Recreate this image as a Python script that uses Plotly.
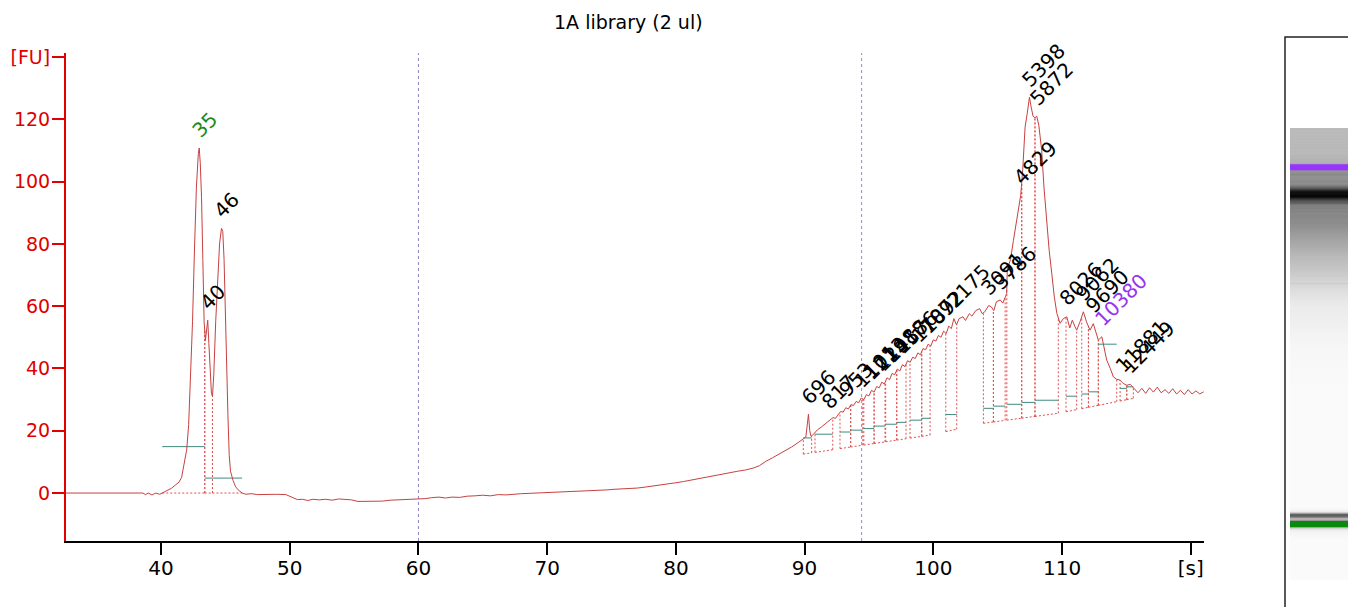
import numpy as np
import plotly.graph_objects as go

### DATA
# electropherogram, migration time [s] vs fluorescence [FU]
time_s = [
    32.6, 38.6, 38.8, 39.0, 39.3, 39.6, 39.9, 40.2, 40.5, 40.8,
    41.1, 41.4, 41.6, 41.8, 42.0, 42.15, 42.3, 42.45, 42.6, 42.75,
    42.9, 42.97, 43.05, 43.15, 43.25, 43.35, 43.45, 43.55, 43.63, 43.72,
    43.82, 43.92, 44.0, 44.1, 44.25, 44.4, 44.55, 44.7, 44.8, 44.9,
    45.0, 45.1, 45.2, 45.3, 45.4, 45.6, 45.8, 46.0, 46.3, 46.6,
    47.0, 47.5, 48.0, 48.5, 49.0, 49.7, 50.2, 50.6, 51.0, 51.4,
    51.8, 52.3, 52.8, 53.3, 53.8, 54.3, 54.8, 55.3, 55.8, 56.5,
    57.2, 57.8, 58.3, 58.8, 59.3, 60.0, 60.5, 61.0, 61.6, 62.1,
    62.6, 63.2, 63.8, 64.4, 65.0, 65.6, 66.2, 66.8, 67.4, 68.0,
    68.6, 69.2, 69.8, 70.4, 71.0, 71.6, 72.2, 72.8, 73.4, 74.0,
    74.6, 75.2, 75.8, 76.4, 77.0, 77.6, 78.2, 78.8, 79.4, 80.0,
    80.6, 81.2, 81.8, 82.4, 83.0, 83.6, 84.2, 84.8, 85.4, 86.0,
    86.5, 87.0, 87.5, 88.0, 88.5, 89.0, 89.5, 89.9, 90.1, 90.25,
    90.3, 90.4, 90.5, 90.6, 90.8, 91.0, 91.3, 91.6, 91.9, 92.2,
    92.4, 92.6, 92.8, 93.0, 93.2, 93.4, 93.6, 93.8, 94.0, 94.2,
    94.4, 94.6, 94.8, 95.0, 95.2, 95.4, 95.6, 95.8, 96.0, 96.2,
    96.4, 96.6, 96.8, 97.0, 97.2, 97.4, 97.6, 97.8, 98.0, 98.2,
    98.4, 98.6, 98.8, 99.0, 99.2, 99.4, 99.6, 99.8, 100.0, 100.2,
    100.4, 100.6, 100.8, 101.0, 101.2, 101.4, 101.6, 101.8, 102.0, 102.3,
    102.5, 102.8, 103.0, 103.3, 103.6, 103.8, 104.0, 104.3, 104.5, 104.7,
    104.9, 105.2, 105.4, 105.6, 105.7, 105.75, 106.0, 106.22, 106.48, 106.79,
    106.95, 107.13, 107.3, 107.47, 107.6, 107.75, 107.9, 108.04, 108.2, 108.42,
    108.6, 108.81, 109.0, 109.2, 109.4, 109.6, 109.85, 110.1, 110.37, 110.6,
    110.8, 111.0, 111.14, 111.4, 111.66, 111.9, 112.18, 112.43, 112.65, 112.82,
    113.09, 113.3, 113.47, 113.75, 113.99, 114.25, 114.5, 114.75, 115.03, 115.3,
    115.6, 115.9, 116.2, 116.5, 116.8, 117.1, 117.4, 117.7, 118.0, 118.3,
    118.6, 118.9, 119.2, 119.5, 119.8, 120.1, 120.4, 120.7, 121.0,
]
fu = [
    0, 0, -0.5, 0, -0.6, 0, -0.4, 0.3, 0.8, 1.5,
    2.5, 3.5, 5, 9, 14, 22, 38, 55, 78, 98,
    109, 110.8, 106, 95, 75, 55, 49, 53, 55.5, 48,
    38, 32, 31, 38, 55, 70, 80, 85, 84, 75,
    55, 40, 25, 12, 7, 4, 2, 1, 0, -0.4,
    -0.2, -0.5, -0.4, -0.5, -0.4, -0.5, -1.5, -2.1, -2.0, -2.4,
    -2.0, -2.2, -2.0, -2.3, -1.9, -2.0, -2.2, -2.7, -2.7, -2.7,
    -2.6, -2.3, -2.2, -2.3, -2.1, -1.9, -1.8, -1.5, -1.3, -1.6,
    -1.3, -1.4, -1.0, -0.9, -0.7, -0.9, -0.5, -0.6, -0.3, -0.2,
    -0.1, 0, 0.1, 0.2, 0.3, 0.3, 0.5, 0.6, 0.6, 0.8,
    1.0, 1.2, 1.3, 1.4, 1.6, 1.9, 2.2, 2.5, 2.9, 3.3,
    3.7, 4.2, 4.6, 5.1, 5.5, 6.0, 6.5, 7.0, 7.4, 8.0,
    8.8, 10.2, 11.3, 12.4, 13.6, 14.8, 16.2, 17.3, 18.0, 23.5,
    25.3, 20, 18.2, 18.5, 19.5, 20.3, 21.2, 22.3, 23.4, 24.2,
    24.0, 25.0, 26.2, 26.0, 27.4, 27.0, 28.4, 28.1, 29.4, 29.0,
    30.5, 30.0, 31.6, 31.2, 33.0, 32.4, 34.2, 33.8, 35.6, 35.0,
    37.0, 36.4, 38.4, 38.0, 39.8, 39.2, 41.2, 40.6, 42.5, 42.0,
    43.6, 43.2, 45.0, 44.4, 46.4, 46.0, 47.8, 47.2, 49.2, 48.8,
    50.6, 50.0, 52.0, 51.2, 53.6, 52.8, 56.0, 54.0, 56.0, 56.6,
    55.4, 57.6, 56.8, 58.6, 59.2, 57.6, 58.2, 60.2, 59.8, 58.6,
    61.4, 62.0, 61.0, 63.0, 64.1, 72.0, 75.0, 81.0, 87.6, 95.6,
    104, 117.5, 122, 127.1, 124, 121, 120.5, 121.0, 118, 110,
    98, 86.6, 78, 70.6, 63, 57.7, 54.5, 56, 56.6, 53,
    55.5, 53.5, 52.3, 55, 58.2, 55, 52.3, 54.4, 51, 49.1,
    50.2, 46, 42.7, 40, 37.3, 36.5, 36.3, 35.2, 34.6, 34.9,
    33.4, 32.2, 33.6, 32.0, 33.8, 32.4, 34.0, 32.2, 33.2, 32.0,
    33.5, 31.8, 33.0, 31.6, 33.2, 31.8, 32.8, 31.8, 32.5,
]

# peak table: window start / end [s], level of the green-grey bar [FU], size label
peak_start = [40.1, 43.4, 44.0, 89.9, 90.81, 92.75, 93.58, 94.6, 95.4, 96.3,
              97.16, 98.19, 99.1, 100.97, 103.89, 104.67, 105.71, 106.87, 107.9,
              110.31, 111.53, 112.05, 112.82, 114.51, 115.03]
peak_end = [43.4, 44.0, 46.3, 90.55, 92.19, 93.58, 94.52, 95.4, 96.25, 97.16,
            97.88, 99.1, 99.75, 101.82, 104.67, 105.58, 106.87, 107.9, 109.71,
            111.14, 112.05, 112.82, 114.25, 115.03, 115.54]
peak_level = [14.9, 4.8, 4.8, 17.7, 18.9, 19.6, 20.2, 20.7, 21.5, 22.1,
              22.7, 23.4, 24.0, 25.2, 27.2, 27.9, 28.5, 29.1, 29.8,
              31.1, 31.8, 32.5, 47.8, 33.6, 34.1]
peak_label = ['35', '40', '46', '696', '817', '953', '1101', '1213', '1298', '1418',
              '1576', '1707', '1892', '2175', '3091', '3786', '4829', '5398', '5872',
              '8026', '9062', '9690', '10380', '11881', '12449']
lower_marker = '35'
upper_marker = '10380'

# baseline under the peak windows
base_t = [40.1, 46.3, 89.9, 99.75, 103.9, 109.7, 115.54]
base_fu = [0, 0, 12.5, 18.6, 22.4, 25.6, 30.4]

x_ticks = [40, 50, 60, 70, 80, 90, 100, 110, 120]
x_ticktext = ['40', '50', '60', '70', '80', '90', '100', '110', '[s]']
y_ticks = [0, 20, 40, 60, 80, 100, 120, 140]
y_ticktext = ['0', '20', '40', '60', '80', '100', '120', '[FU]']

guide_lines = [60.0, 94.43]
guide_colors = ['#9080c0', '#8c8ce0']

### FIGURE
t = np.array(time_s)
y = np.array(fu)

# page body has an 8 px margin, so size the figure to the visible part
OFF = 8
W, H = 1356 - OFF, 607 - OFF
FONT = 'DejaVu Sans'
FS = 20
RED = '#e00000'
TRACE = '#c84040'


def px(sx):
    return (sx - OFF) / W


def py(sy):
    return 1 - (sy - OFF) / H


fig = go.Figure()

# dotted boxes of the peak windows
bx, by = [], []
for s, e in zip(peak_start, peak_end):
    bs, be = np.interp(s, base_t, base_fu), np.interp(e, base_t, base_fu)
    bx += [s, s, None, e, e, None, s, e, None]
    by += [bs, np.interp(s, t, y), None, be, np.interp(e, t, y), None, bs, be, None]
fig.add_trace(go.Scatter(x=bx, y=by, mode='lines', hoverinfo='skip',
                         line=dict(color='#e05050', width=1, dash='2px,2px')))

# green-grey bars
sx, sy = [], []
for s, e, lv in zip(peak_start, peak_end, peak_level):
    sx += [s, e, None]
    sy += [lv, lv, None]
fig.add_trace(go.Scatter(x=sx, y=sy, mode='lines', hoverinfo='skip',
                         line=dict(color='#3f8a7e', width=1)))

fig.add_trace(go.Scatter(x=t, y=y, mode='lines', line=dict(color=TRACE, width=1)))

# gel lane on the right
fig.add_trace(go.Heatmap(x=[0], y=t, z=[[v] for v in y], xaxis='x2', yaxis='y2',
                         zmin=0, zmax=128, showscale=False, hoverinfo='skip',
                         colorscale=[[0, 'rgb(250,250,250)'], [1, 'rgb(0,0,0)']]))

annotations = []
for s, e, lab in zip(peak_start, peak_end, peak_label):
    m = (t >= s) & (t <= e)
    i = np.argmax(np.where(m, y, -1e9))
    col = 'black'
    if lab == lower_marker:
        col = '#1a8a1a'
    elif lab == upper_marker:
        col = '#9933ee'
    annotations.append(dict(x=t[i], y=y[i], text=lab, showarrow=False, textangle=-45,
                            xanchor='left', yanchor='bottom', xshift=-15, yshift=3,
                            font=dict(family=FONT, size=FS, color=col)))

annotations.append(dict(x=px(628), y=py(9), xref='paper', yref='paper',
                        text='1A library (2 ul)', showarrow=False,
                        xanchor='center', yanchor='top',
                        font=dict(family=FONT, size=FS - 1, color='black')))

shapes = []
for g, c in zip(guide_lines, guide_colors):
    shapes.append(dict(type='line', x0=g, x1=g, y0=0, y1=1, xref='x', yref='y domain',
                       line=dict(color=c, width=1, dash='dot'), layer='below'))

# marker bands on the gel
lo_t = t[np.argmax(np.where((t >= peak_start[0]) & (t <= peak_end[0]), y, -1e9))]
k = peak_label.index(upper_marker)
hi_t = t[np.argmax(np.where((t >= peak_start[k]) & (t <= peak_end[k]), y, -1e9))]
shapes.append(dict(type='rect', xref='x2 domain', yref='y2', x0=0, x1=1,
                   y0=hi_t - 0.6, y1=hi_t + 0.6, fillcolor='#9933ff', line_width=0))
shapes.append(dict(type='rect', xref='x2 domain', yref='y2', x0=0, x1=1,
                   y0=lo_t - 0.6, y1=lo_t + 0.6, fillcolor='#0a8a0a', line_width=0))
shapes.append(dict(type='rect', xref='paper', yref='paper', x0=px(1285), x1=1.05,
                   y0=-0.05, y1=py(37), line=dict(color='#222222', width=1.5)))

fig.update_layout(
    width=W, height=H,
    margin=dict(l=0, r=0, t=0, b=0),
    paper_bgcolor='white', plot_bgcolor='white',
    showlegend=False,
    font=dict(family=FONT, size=FS),
    annotations=annotations,
    shapes=shapes,
    xaxis=dict(domain=[px(66), px(1204)], range=[32.62, 121.03],
               tickvals=x_ticks, ticktext=x_ticktext,
               ticks='outside', ticklen=12, tickwidth=2, tickcolor='black',
               showline=True, linecolor='black', linewidth=2,
               showgrid=False, zeroline=False, automargin=False,
               ticklabelstandoff=-4,
               tickfont=dict(family=FONT, size=FS, color='black')),
    yaxis=dict(domain=[py(541), py(53)], range=[-15.4, 141.3],
               tickvals=y_ticks, ticktext=y_ticktext,
               ticks='outside', ticklen=12, tickwidth=2, tickcolor=RED,
               showline=True, linecolor=RED, linewidth=2,
               showgrid=False, zeroline=False, automargin=False,
               ticklabelstandoff=-2,
               tickfont=dict(family=FONT, size=FS - 1, color=RED)),
    xaxis2=dict(domain=[px(1290), px(1354)], range=[-0.5, 0.5], visible=False,
                anchor='y2'),
    yaxis2=dict(domain=[py(580), py(128)], range=[31.95, 120.8],
                visible=False, anchor='x2'),
)

fig.write_html("out.html")
